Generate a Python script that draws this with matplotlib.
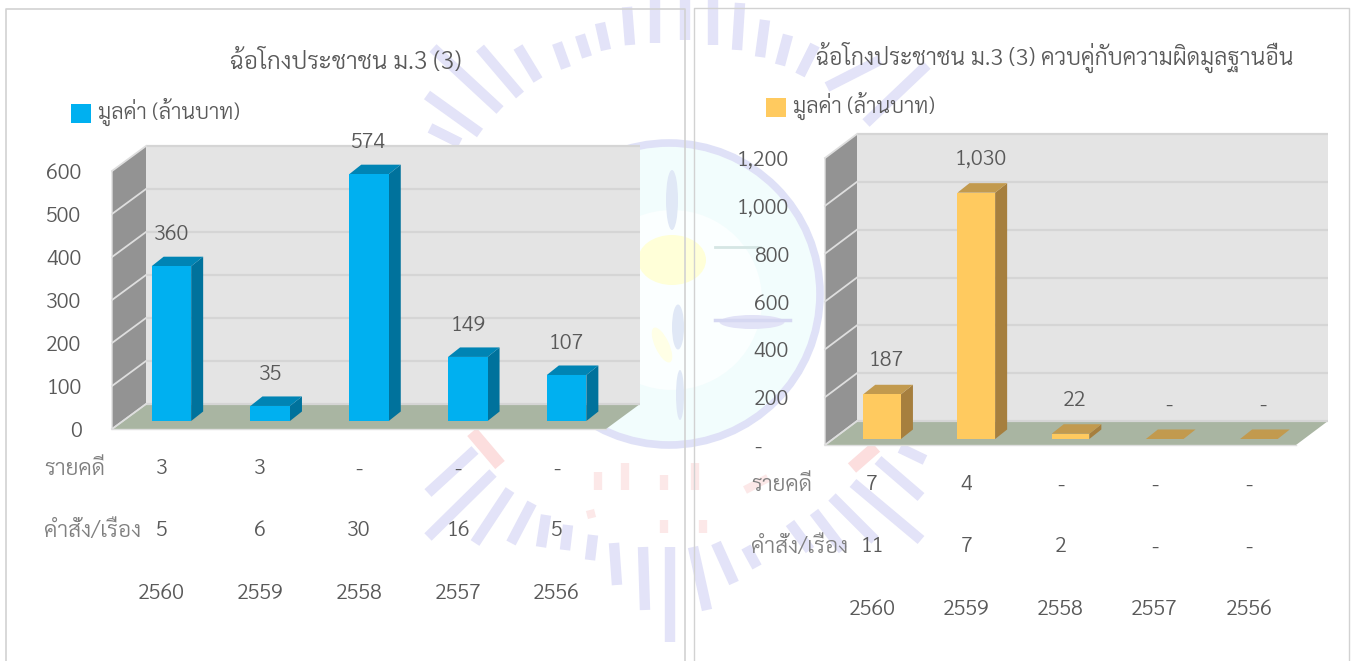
import matplotlib
matplotlib.use("Agg")
import matplotlib.pyplot as plt
from matplotlib.patches import Circle, Ellipse, Polygon, Rectangle

plt.rcParams["font.family"] = ["Sarabun", "Thasadith", "Noto Sans Thai", "DejaVu Sans"]
plt.rcParams["font.weight"] = 300

W, H = 1355, 661
TEXT = "#595959"

years = ["2560", "2559", "2558", "2557", "2556"]
row_cases = "รายคดี"
row_orders = "คำสั่ง/เรื่อง"
legend_label = "มูลค่า (ล้านบาท)"

left_title = "ฉ้อโกงประชาชน ม.3 (3)"
left_values = [360, 35, 574, 149, 107]
left_cases = ["3", "3", "-", "-", "-"]
left_orders = ["5", "6", "30", "16", "5"]
left_ticks = [0, 100, 200, 300, 400, 500, 600]

right_title = "ฉ้อโกงประชาชน ม.3 (3) ควบคู่กับความผิดมูลฐานอื่น"
right_values = [187, 1030, 22, 0, 0]
right_cases = ["7", "4", "-", "-", "-"]
right_orders = ["11", "7", "2", "-", "-"]
right_ticks = [0, 200, 400, 600, 800, 1000, 1200]

# seal watermark strokes behind the charts
rays = [
    (655, 0, 655, 43), (685, 0, 685, 40), (713, 0, 713, 45), (627, 7, 630, 45),
    (600, 23, 606, 50), (580, 35, 587, 57), (557, 43, 566, 68), (518, 47, 538, 80),
    (480, 48, 520, 95), (433, 48, 500, 110), (427, 95, 480, 133), (430, 128, 460, 143),
    (740, 3, 737, 50), (765, 20, 760, 57), (788, 35, 780, 65), (815, 45, 800, 75),
    (880, 60, 827, 87), (927, 65, 866, 123), (670, 547, 670, 642), (643, 547, 645, 610),
    (614, 543, 617, 585), (593, 535, 590, 560), (568, 525, 565, 550), (546, 515, 541, 547),
    (532, 503, 511, 543), (510, 490, 475, 543), (493, 473, 428, 537), (475, 450, 428, 493),
    (693, 547, 707, 610), (716, 543, 734, 583), (746, 547, 757, 567), (790, 523, 810, 550),
    (814, 512, 843, 550), (832, 497, 875, 540), (853, 483, 921, 540), (878, 460, 921, 497),
    (900, 448, 925, 460),
]
pink_marks = [
    (625, 463, 625, 490), (598, 472, 598, 490), (664, 475, 664, 490), (695, 463, 695, 490),
    (664, 520, 664, 533), (703, 520, 703, 533), (590, 510, 592, 518), (768, 478, 745, 490),
]
seal_blobs = [(672, 200, 12, 60), (678, 327, 12, 45), (680, 395, 8, 50)]


def draw_background(fig):
    ax = fig.add_axes([0, 0, 1, 1], zorder=0)
    ax.set_xlim(0, W)
    ax.set_ylim(H, 0)
    ax.axis("off")
    for x0, y0, x1, y1 in rays:
        ax.plot([x0, x1], [y0, y1], color="#e3e3f8", lw=7.5, solid_capstyle="butt")
    for x0, y0, x1, y1 in pink_marks:
        ax.plot([x0, x1], [y0, y1], color="#fce8e8", lw=6, solid_capstyle="butt")
    ax.plot([472, 500], [432, 465], color="#fcdede", lw=9, solid_capstyle="butt")
    ax.plot([876, 852], [447, 468], color="#fcdede", lw=9, solid_capstyle="butt")
    ax.add_patch(Circle((669, 294), 151, facecolor="#f2fdfd", edgecolor="#dfe1f7", lw=5.5))
    ax.add_patch(Circle((672, 300), 90, facecolor="#fbffff", edgecolor="none"))
    ax.add_patch(Ellipse((672, 260), 68, 50, facecolor="#ffffd8", edgecolor="none"))
    ax.add_patch(Ellipse((662, 345), 14, 38, angle=-25, facecolor="#ffffe6", edgecolor="none"))
    for x, y, w, h in seal_blobs:
        ax.add_patch(Ellipse((x, y), w, h, facecolor="#e0e8f6", edgecolor="none"))
    ax.plot([715, 790], [320, 320], color="#d6d8f2", lw=2.5)
    ax.add_patch(Ellipse((752, 322), 65, 14, facecolor="#e2e3f7", edgecolor="none"))
    ax.plot([715, 760], [247, 247], color="#d5e6e4", lw=2)
    # chart frames, open at the bottom of the page
    ax.plot([6, 6, 685, 685], [H, 9, 9, H], color="#d2d2d2", lw=1.2)
    ax.plot([694, 694, 1349, 1349], [H, 8, 8, H], color="#d2d2d2", lw=1)


def draw_chart(fig, box, title, title_xy, values, cases, orders, ticks, style):
    x0, x1, ytop, ybot = box
    ax = fig.add_axes([x0 / W, 1 - ybot / H, (x1 - x0) / W, (ybot - ytop) / H], zorder=1)
    ax.patch.set_visible(False)
    for spine in ax.spines.values():
        spine.set_visible(False)
    ymax = ticks[-1]
    ax.set_xlim(-0.5, 4.5)
    ax.set_ylim(0, ymax)

    ux = 5 / (x1 - x0)
    uy = ymax / (ybot - ytop)
    wall_dx, wall_dy = style["wall"][0] * ux, style["wall"][1] * uy
    left, right = -0.5, 4.5

    # walls and floor
    ax.add_patch(Polygon([(left + wall_dx, wall_dy), (right + wall_dx, wall_dy),
                          (right + wall_dx, ymax + wall_dy), (left + wall_dx, ymax + wall_dy)],
                         facecolor="#e4e4e4", edgecolor="none", clip_on=False, zorder=1))
    ax.add_patch(Polygon([(left, 0), (left + wall_dx, wall_dy),
                          (left + wall_dx, ymax + wall_dy), (left, ymax)],
                         facecolor="#939393", edgecolor="none", clip_on=False, zorder=1))
    ax.add_patch(Polygon([(left, 0), (right, 0), (right + wall_dx, wall_dy), (left + wall_dx, wall_dy)],
                         facecolor="#a9b5a2", edgecolor="none", clip_on=False, zorder=1))
    for t in ticks:
        ax.plot([left + wall_dx, right + wall_dx], [t + wall_dy] * 2, color="#d5d5d5", lw=1.6,
                clip_on=False, zorder=2, solid_capstyle="butt")
        ax.plot([left, left + wall_dx], [t, t + wall_dy], color="#dedede", lw=1.3,
                clip_on=False, zorder=2)
    ax.plot([left, left, left + wall_dx], [ymax, 0, wall_dy], color="#dedede", lw=1,
            clip_on=False, zorder=2)
    ax.plot([left, right], [0, 0], color="#dedede", lw=1, clip_on=False, zorder=2)

    # bars with their depth faces
    off_x, off_y = style["bar_off"][0] * ux, style["bar_off"][1] * uy
    dep_x, dep_y = 12 * ux, 9.5 * uy
    half = 0.2
    for i, v in enumerate(values):
        a, b = i + off_x - half, i + off_x + half
        ax.add_patch(Polygon([(b, off_y), (b + dep_x, off_y + dep_y), (b + dep_x, off_y + v + dep_y), (b, off_y + v)],
                             facecolor=style["side"], edgecolor="none", clip_on=False, zorder=3))
        ax.add_patch(Polygon([(a, off_y + v), (b, off_y + v), (b + dep_x, off_y + v + dep_y), (a + dep_x, off_y + v + dep_y)],
                             facecolor=style["top"], edgecolor="none", clip_on=False, zorder=3))
    ax.bar([i + off_x for i in range(5)], values, width=2 * half, bottom=off_y,
           color=style["front"], clip_on=False, zorder=4)

    # value labels
    for i, v in enumerate(values):
        label = f"{v:,}" if v else "-"
        ax.annotate(label, xy=(i + off_x, off_y + v), xytext=style["label_off"], textcoords="offset pixels",
                    ha="center", va="center", fontsize=style["fs"], color=TEXT, zorder=6)

    # axis labels
    ax.set_yticks(ticks)
    ax.set_yticklabels([f"{t:,}" if t else style["zero"] for t in ticks], fontsize=style["fs"], color=TEXT)
    ax.tick_params(axis="y", length=0, pad=style["ypad"])
    ax.set_xticks(range(5))
    ax.set_xticklabels(years, fontsize=style["fs"], color=TEXT)
    ax.tick_params(axis="x", length=0, pad=111)

    # table rows under the chart
    for row, cells, off in ((row_cases, cases, -40), (row_orders, orders, -102)):
        ax.annotate(row, xy=(left, 0), xytext=(style["row_x"], off), textcoords="offset pixels",
                    ha="left", va="center", fontsize=style["row_fs"], color="#7f7f7f")
        for i, c in enumerate(cells):
            ax.annotate(c, xy=(i, 0), xytext=(0, off), textcoords="offset pixels",
                        ha="center", va="center", fontsize=style["fs"], color=TEXT)

    # title and legend sit in page pixels
    fig.text(title_xy[0] / W, 1 - title_xy[1] / H, title, ha="center", va="center",
             fontsize=style["title_fs"], color=TEXT)
    lx, ly = style["legend"]
    fig.patches.append(Rectangle((lx / W, 1 - (ly + 19) / H), 19.5 / W, 19 / H, transform=fig.transFigure,
                                 facecolor=style["front"], edgecolor="none", figure=fig))
    fig.text((lx + 27) / W, 1 - (ly + 8) / H, legend_label, ha="left", va="center",
             fontsize=style["legend_fs"], color=TEXT)


fig = plt.figure(figsize=(W / 100, H / 100), dpi=100, facecolor="white")
draw_background(fig)

draw_chart(fig, (112, 606, 171, 429), left_title, (345.5, 62), left_values, left_cases, left_orders, left_ticks,
           dict(front="#00b0f0", side="#00729c", top="#0084b4", wall=(34, 25), bar_off=(10, 8), label_off=(0, 31.5),
                ypad=22, zero="0", row_x=-68, legend=(71, 104), fs=15.5, row_fs=16.3, title_fs=17.5, legend_fs=15.7))
draw_chart(fig, (825, 1296, 158, 445), right_title, (1054.5, 57), right_values, right_cases, right_orders, right_ticks,
           dict(front="#ffca5f", side="#a67f3e", top="#c29a4e", wall=(32, 24), bar_off=(10, 6), label_off=(4, 33.5),
                ypad=26, zero="-     ", row_x=-74, legend=(766, 98), fs=15.5, row_fs=16.3, title_fs=16.6, legend_fs=15.7))

fig.savefig("out.png", dpi=100)
